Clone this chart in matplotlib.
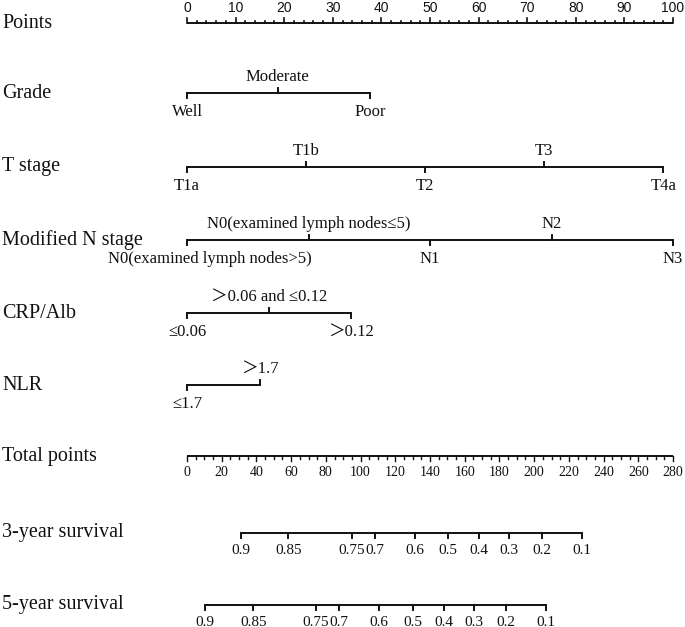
import matplotlib.pyplot as plt

plt.rcParams['font.family'] = ['Liberation Serif', 'Noto Sans CJK SC', 'DejaVu Serif']

# Nomogram values (points scale 0-100)
points_ticks = list(range(0, 101, 10))

grade_labels = ["Well", "Moderate", "Poor"]
grade_points = [0, 18.7, 37.7]

t_labels = ["T1a", "T1b", "T2", "T3", "T4a"]
t_points = [0, 24.5, 49, 73.5, 98]

n_labels = ["N0(examined lymph nodes>5)", "N0(examined lymph nodes≤5)", "N1", "N2", "N3"]
n_points = [0, 25, 50, 75, 100]

crp_labels = ["≤0.06", "＞0.06 and ≤0.12", "＞0.12"]
crp_points = [0, 16.9, 33.7]

nlr_labels = ["≤1.7", "＞1.7"]
nlr_points = [0, 15]

total_ticks = list(range(0, 281, 20))
total_max = 280

surv_labels = ["0.9", "0.85", "0.75", "0.7", "0.6", "0.5", "0.4", "0.3", "0.2", "0.1"]
surv3_total = [30.9, 58.4, 94.9, 108.3, 131.4, 150.5, 168.4, 185.7, 204.3, 227.4]
surv5_total = [10.4, 38.2, 74.3, 87.7, 110.8, 130.4, 148.0, 165.5, 183.7, 206.8]

row_names = ["Points", "Grade", "T stage", "Modified N stage", "CRP/Alb", "NLR",
             "Total points", "3-year survival", "5-year survival"]
row_y = [23, 93, 167, 240, 313, 385, 456, 533, 605]

fig = plt.figure(figsize=(6.85, 6.27), dpi=100)
ax = fig.add_axes([0, 0, 1, 1])
px = 100 / 486.0  # points per pixel
ax.set_xlim(-187 * px, (685 - 187) * px)
ax.set_ylim(627, 0)
ax.axis('off')

lw = 1.4
col = '#111111'

for name, y in zip(row_names, row_y):
    ax.text(-185 * px, y, name, fontsize=14.5, va='center', ha='left', color=col)

# Points axis
y = row_y[0]
ax.plot([0, 100], [y, y], color=col, lw=lw, solid_capstyle='butt')
for v in range(0, 101, 2):
    ln = 5 if v % 10 == 0 else 2.5
    ax.plot([v, v], [y, y - ln], color=col, lw=1.2)
for v in points_ticks:
    ax.text(v, y - 15, str(v), fontsize=10, ha='center', va='center',
            family='Liberation Sans', color=col)

# Variable axes
variables = [(grade_labels, grade_points), (t_labels, t_points), (n_labels, n_points),
             (crp_labels, crp_points), (nlr_labels, nlr_points)]
for (labels, pts), y in zip(variables, row_y[1:6]):
    ax.plot([min(pts), max(pts)], [y, y], color=col, lw=lw, solid_capstyle='butt')
    for i, (lab, p) in enumerate(zip(labels, pts)):
        if i % 2 == 0:
            ax.plot([p, p], [y, y + 5], color=col, lw=lw)
            xt = p + 23 * px if len(lab) > 20 else p
            ax.text(xt, y + 19, lab, fontsize=12, ha='center', va='center', color=col)
        else:
            ax.plot([p, p], [y, y - 5], color=col, lw=lw)
            ax.text(p, y - 16, lab, fontsize=12, ha='center', va='center', color=col)

# Total points axis
y = row_y[6]
sc = 100 / total_max
ax.plot([0, 100], [y, y], color=col, lw=lw, solid_capstyle='butt')
for v in range(0, total_max + 1, 5):
    ln = 5 if v % 20 == 0 else 3
    ax.plot([v * sc, v * sc], [y, y + ln], color=col, lw=1.0)
for v in total_ticks:
    ax.text(v * sc, y + 16, str(v), fontsize=10, ha='center', va='center', color=col)

# Survival axes
for tot, y in zip([surv3_total, surv5_total], row_y[7:9]):
    xs = [t * sc for t in tot]
    ax.plot([min(xs), max(xs)], [y, y], color=col, lw=lw, solid_capstyle='butt')
    for lab, xv in zip(surv_labels, xs):
        ax.plot([xv, xv], [y, y + 5], color=col, lw=lw)
        ax.text(xv, y + 17, lab, fontsize=11, ha='center', va='center', color=col)

fig.savefig('out.png', dpi=100, facecolor='white')
